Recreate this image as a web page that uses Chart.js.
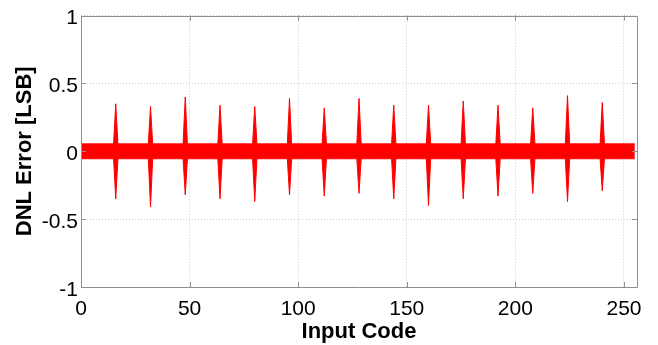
<!DOCTYPE html>
<html>
<head>
    <title>DNL Error</title>
    <style>
        html, body { margin: 0; padding: 0; background: #fff; }
        #wrap { width: 658px; height: 345px; }
    </style>
</head>
<body>
    <div id="wrap"><canvas id="dnlChart" width="658" height="345"></canvas></div>
<script src="https://cdn.jsdelivr.net/npm/chart.js"></script>
<script>
    // input codes of the 8-bit converter
    const codes = [];
    for (let c = 0; c <= 255; c++) codes.push(c);

    // the big DNL spikes sit on every 16th code
    const spikeCodes = [16, 32, 48, 64, 80, 96, 112, 128, 144, 160, 176, 192, 208, 224, 240];
    const spikeMax = [0.35, 0.33, 0.40, 0.34, 0.33, 0.39, 0.32, 0.39, 0.34, 0.34, 0.37, 0.34, 0.32, 0.41, 0.36];
    const spikeMin = [-0.35, -0.41, -0.32, -0.35, -0.37, -0.32, -0.33, -0.31, -0.35, -0.40, -0.35, -0.33, -0.31, -0.37, -0.29];

    // noise floor between the spikes
    const floorTop = 0.055;
    const floorBottom = -0.055;

    const xTicks = [0, 50, 100, 150, 200, 250];
    const yTicks = [-1, -0.5, 0, 0.5, 1];

    const upper = codes.map(c => {
        const k = spikeCodes.indexOf(c);
        return {x: c, y: k >= 0 ? spikeMax[k] : floorTop};
    });
    const lower = codes.map(c => {
        const k = spikeCodes.indexOf(c);
        return {x: c, y: k >= 0 ? spikeMin[k] : floorBottom};
    });

    const boxPlugin = {
        id: 'box',
        afterDraw(chart) {
            const {ctx, chartArea: {left, top, right, bottom}, scales: {x, y}} = chart;
            ctx.save();
            ctx.strokeStyle = '#8f8f8f';
            ctx.lineWidth = 1;
            ctx.beginPath();
            ctx.rect(Math.round(left) + 0.5, Math.round(top) + 0.5,
                Math.round(right) - Math.round(left), Math.round(bottom) - Math.round(top));
            // inward tick marks
            xTicks.forEach(v => {
                const px = Math.round(x.getPixelForValue(v)) + 0.5;
                ctx.moveTo(px, bottom); ctx.lineTo(px, bottom - 5);
                ctx.moveTo(px, top); ctx.lineTo(px, top + 5);
            });
            yTicks.forEach(v => {
                const py = Math.round(y.getPixelForValue(v)) + 0.5;
                ctx.moveTo(left, py); ctx.lineTo(left + 5, py);
                ctx.moveTo(right, py); ctx.lineTo(right - 5, py);
            });
            ctx.stroke();
            ctx.restore();
        }
    };

    const tickFont = {family: "'Liberation Sans', Arial, sans-serif", size: 21};
    const titleFont = {family: "'Liberation Sans', Arial, sans-serif", size: 22, weight: 'bold'};

    new Chart(document.getElementById('dnlChart'), {
        type: 'line',
        data: {
            datasets: [{
                label: 'DNL max',
                data: upper,
                borderColor: '#ff0000',
                backgroundColor: '#ff0000',
                borderWidth: 1,
                pointRadius: 0,
                tension: 0,
                fill: '+1'
            }, {
                label: 'DNL min',
                data: lower,
                borderColor: '#ff0000',
                backgroundColor: '#ff0000',
                borderWidth: 1,
                pointRadius: 0,
                tension: 0,
                fill: false
            }]
        },
        options: {
            responsive: false,
            animation: false,
            devicePixelRatio: 1,
            layout: {padding: {left: 0, top: 13, right: 21, bottom: 0}},
            plugins: {legend: {display: false}, tooltip: {enabled: false}},
            scales: {
                x: {
                    type: 'linear',
                    min: 0,
                    max: 256,
                    afterBuildTicks: s => { s.ticks = xTicks.map(v => ({value: v})); },
                    afterFit: s => { s.height = 58; },
                    grid: {color: '#cccccc', drawTicks: false, tickLength: 0},
                    border: {display: false, dash: [1, 2]},
                    ticks: {font: tickFont, color: '#000', padding: 10, maxRotation: 0},
                    title: {display: true, text: 'Input Code', font: titleFont, color: '#000', padding: {top: 0, bottom: 0}}
                },
                y: {
                    type: 'linear',
                    min: -1,
                    max: 1,
                    afterBuildTicks: s => { s.ticks = yTicks.map(v => ({value: v})); },
                    afterFit: s => { s.width = 81; },
                    grid: {color: '#cccccc', drawTicks: false, tickLength: 0},
                    border: {display: false, dash: [1, 2]},
                    ticks: {font: tickFont, color: '#000', padding: 3, labelOffset: 3,
                        callback: v => String(v)},
                    title: {display: true, text: 'DNL Error [LSB]', font: titleFont, color: '#000', padding: {top: 12, bottom: 0}}
                }
            }
        },
        plugins: [boxPlugin]
    });
</script>
</body>
</html>
